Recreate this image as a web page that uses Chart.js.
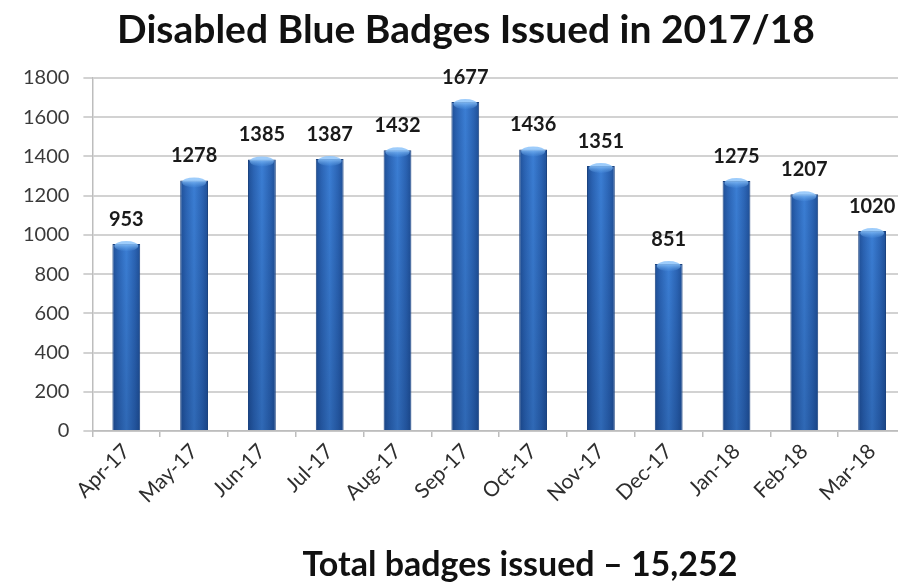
<!DOCTYPE html>
<html>
<head>
<meta charset="utf-8">
<script src="https://cdn.jsdelivr.net/npm/chart.js@4.4.1/dist/chart.umd.min.js"></script>
<style>
  html, body { margin: 0; padding: 0; background: #ffffff; overflow: hidden; }
  #wrap { position: relative; width: 906px; height: 587px; }
</style>
</head>
<body>
<div id="wrap"><canvas id="chart"></canvas></div>
<script>
// Monthly Blue Badge issue counts, April 2017 to March 2018
const months = ['Apr-17', 'May-17', 'Jun-17', 'Jul-17', 'Aug-17', 'Sep-17',
                'Oct-17', 'Nov-17', 'Dec-17', 'Jan-18', 'Feb-18', 'Mar-18'];
const badgesIssued = [953, 1278, 1385, 1387, 1432, 1677, 1436, 1351, 851, 1275, 1207, 1020];
const yMax = 1800;
const yStep = 200;
const titleText = 'Disabled Blue Badges Issued in 2017/18';
const totalText = 'Total badges issued \u2013 15,252';

const FONT = 'Lato, "Open Sans", sans-serif';
const BAR_FRACTION = 0.41;

// Horizontal shading across each bar to give a rounded, tube-like look
function barFill(ctx) {
  const chart = ctx.chart;
  const area = chart.chartArea;
  if (!area || ctx.dataIndex === undefined) return '#2f6cc0';
  const xScale = chart.scales.x;
  const cx = xScale.getPixelForValue(ctx.dataIndex);
  const half = (area.right - area.left) / months.length * BAR_FRACTION / 2;
  const g = chart.ctx.createLinearGradient(cx - half, 0, cx + half, 0);
  g.addColorStop(0, '#1f4f96');
  g.addColorStop(0.2, '#2b64b4');
  g.addColorStop(0.5, '#3b7ed4');
  g.addColorStop(0.8, '#2b64b4');
  g.addColorStop(1, '#1f4f96');
  return g;
}

// Extra shading, top cap highlight and value labels for each bar
const barDecor = {
  id: 'barDecor',
  afterDatasetsDraw(chart) {
    const c = chart.ctx;
    const meta = chart.getDatasetMeta(0);
    c.save();
    meta.data.forEach((bar, i) => {
      const left = bar.x - bar.width / 2;
      const w = bar.width;
      // darken toward the base
      const vg = c.createLinearGradient(0, bar.y, 0, bar.base);
      vg.addColorStop(0, 'rgba(0,20,60,0)');
      vg.addColorStop(1, 'rgba(0,20,60,0.2)');
      c.fillStyle = vg;
      c.fillRect(left + 1, bar.y, w - 2, bar.base - bar.y);
      // light cap at the top of the bar
      const capH = 8;
      const cg = c.createLinearGradient(0, bar.y, 0, bar.y + capH);
      cg.addColorStop(0, 'rgba(140,195,250,0.85)');
      cg.addColorStop(1, 'rgba(90,160,235,0)');
      c.fillStyle = cg;
      c.beginPath();
      c.ellipse(bar.x, bar.y + 2, w / 2 - 2, capH / 2 + 1, 0, 0, Math.PI * 2);
      c.fill();
      // value label
      c.fillStyle = '#1a1a1a';
      c.font = 'bold 20px ' + FONT;
      c.textAlign = 'center';
      c.textBaseline = 'alphabetic';
      c.fillText(String(badgesIssued[i]), bar.x, bar.y - 18);
    });
    c.restore();
  }
};

// Heading above the plot and total beneath it
const captions = {
  id: 'captions',
  afterDraw(chart) {
    const c = chart.ctx;
    c.save();
    c.fillStyle = '#111111';
    c.textAlign = 'center';
    c.textBaseline = 'alphabetic';
    c.font = 'bold 39px ' + FONT;
    c.fillText(titleText, 466, 43);
    c.font = 'bold 34px ' + FONT;
    c.fillText(totalText, 520, 576);
    c.restore();
  }
};

new Chart(document.getElementById('chart'), {
  type: 'bar',
  data: {
    labels: months,
    datasets: [{
      data: badgesIssued,
      backgroundColor: barFill,
      borderColor: '#1b4380',
      borderWidth: 1,
      borderSkipped: 'bottom',
      categoryPercentage: 1,
      barPercentage: BAR_FRACTION
    }]
  },
  options: {
    responsive: true,
    maintainAspectRatio: false,
    animation: false,
    layout: { padding: { top: 78, left: 9, right: 0, bottom: 77 } },
    plugins: {
      legend: { display: false },
      tooltip: { enabled: false },
      title: { display: false }
    },
    scales: {
      x: {
        grid: {
          drawOnChartArea: false,
          drawTicks: true,
          tickLength: 6,
          color: '#bdbdbd',
          lineWidth: 1.5,
          offset: true
        },
        border: { color: '#bdbdbd', width: 1.5 },
        ticks: {
          font: { family: FONT, size: 21 },
          color: '#2e2e2e',
          maxRotation: 45,
          minRotation: 45,
          autoSkip: false,
          padding: 2
        }
      },
      y: {
        min: 0,
        max: yMax,
        ticks: {
          stepSize: yStep,
          font: { family: FONT, size: 20 },
          color: '#3a3a3a',
          padding: 14,
          callback: (v) => String(v)
        },
        grid: {
          color: '#d2d2d2',
          lineWidth: 2,
          drawTicks: true,
          tickLength: 9
        },
        border: { color: '#bdbdbd', width: 1.5 }
      }
    }
  },
  plugins: [barDecor, captions]
});
</script>
</body>
</html>
